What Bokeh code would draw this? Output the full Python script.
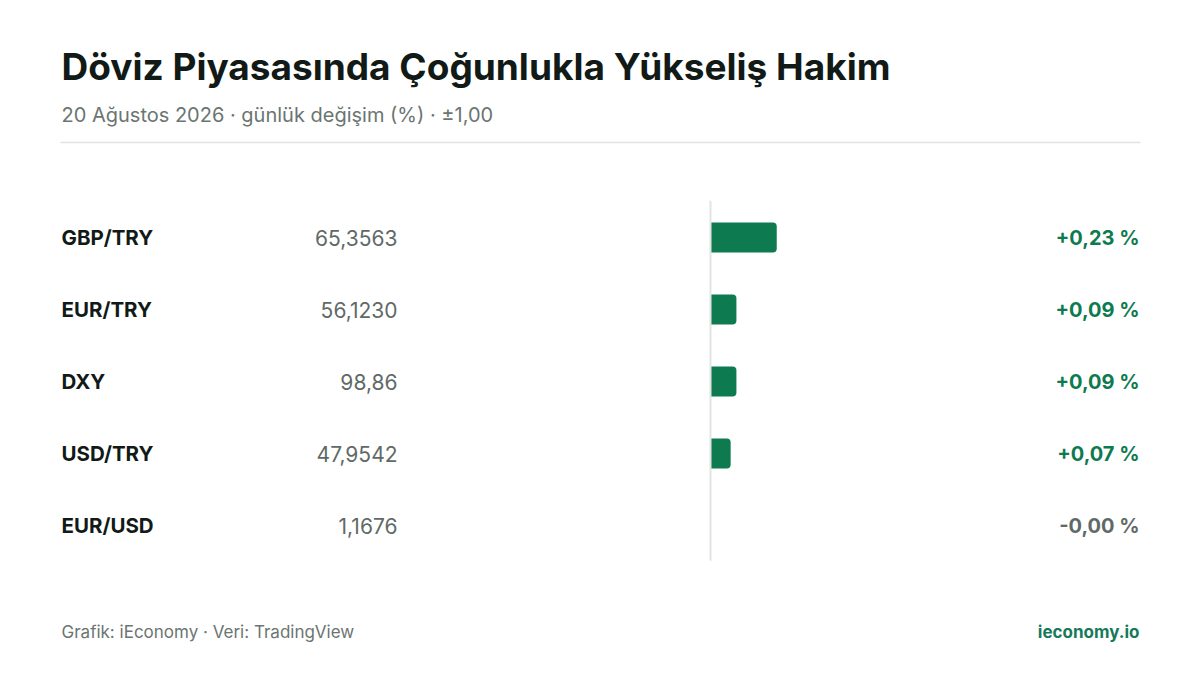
from bokeh.plotting import figure
from bokeh.models import Range1d, ColumnDataSource
from bokeh.core.properties import value
from bokeh.embed import file_html
from bokeh.resources import INLINE

# ---- data ----
pairs = ["GBP/TRY", "EUR/TRY", "DXY", "USD/TRY", "EUR/USD"]
prices = ["65,3563", "56,1230", "98,86", "47,9542", "1,1676"]
changes = [0.23, 0.09, 0.09, 0.07, -0.001]

title = "Döviz Piyasasında Çoğunlukla Yükseliş Hakim"
subtitle = "20 Ağustos 2026 · günlük değişim (%) · ±1,00"
footer_left = "Grafik: iEconomy · Veri: TradingView"
footer_right = "ieconomy.io"

GREEN = "#0e7a50"
GRAY_NUM = "#5f6a66"
DARK = "#111a17"
FONT = "Inter"

W, H = 1184, 659
p = figure(width=W, height=H, output_backend="svg", toolbar_location=None,
           x_range=Range1d(0, W), y_range=Range1d(H, 0),
           x_axis_type=None, y_axis_type=None, min_border=0,
           background_fill_color="white", border_fill_color="white")
p.outline_line_color = None
p.grid.visible = False

# bar value scale: 0 at x 710, 1.00 = 288 px
zero_px, unit_px = 710.0, 288.0
p.extra_x_ranges = {"bar": Range1d((0 - zero_px) / unit_px, (W - zero_px) / unit_px)}
# row scale: row i centred at y 237 + 72 i
row0, row_step = 237.0, 72.0
p.extra_y_ranges = {"rows": Range1d((H - row0) / row_step, (0 - row0) / row_step)}

rows = list(range(len(pairs)))
pct_labels = [(f"{v:+.2f}".replace(".", ",") + " %") for v in changes]
colors = [GREEN if v > 0.005 else GRAY_NUM for v in changes]
src = ColumnDataSource(dict(row=rows, pair=pairs, price=prices, chg=changes,
                            pct=pct_labels, color=colors,
                            zero=[0.0] * len(rows)))

# header
p.text(x=[61], y=[66], text=[title], text_font=value(FONT), text_font_size="37px",
       text_font_style="bold", text_color=DARK, text_baseline="middle", text_align="left")
p.text(x=[61], y=[114], text=[subtitle], text_font=value(FONT), text_font_size="20px",
       text_color="#6b7571", text_baseline="middle", text_align="left")
p.segment(x0=[60], x1=[1140], y0=[142], y1=[142], line_color="#dfe3e1", line_width=1.5)

# rows
p.text(x=61, y="row", text="pair", source=src, y_range_name="rows",
       text_font=value(FONT), text_font_size="20.5px", text_font_style="bold",
       text_color=DARK, text_baseline="middle", text_align="left")
p.text(x=397, y="row", text="price", source=src, y_range_name="rows",
       text_font=value(FONT), text_font_size="21px",
       text_color=GRAY_NUM, text_baseline="middle", text_align="right")
p.text(x=1139, y="row", text="pct", source=src, y_range_name="rows",
       text_font=value(FONT), text_font_size="20px", text_font_style="bold",
       text_color="color", text_baseline="middle", text_align="right")

# bars
p.hbar(y="row", left="zero", right="chg", height=30 / row_step, source=src,
       x_range_name="bar", y_range_name="rows", fill_color="color",
       line_color=None, border_radius=(0, 4, 4, 0))
# zero line
p.segment(x0=[0], x1=[0], y0=[-0.51], y1=[4.49], x_range_name="bar", y_range_name="rows",
          line_color="#e2e5e3", line_width=2)

# footer
p.text(x=[61], y=[631], text=[footer_left], text_font=value(FONT), text_font_size="17px",
       text_color="#6b7571", text_baseline="middle", text_align="left")
p.text(x=[1139], y=[631], text=[footer_right], text_font=value(FONT), text_font_size="17px",
       text_font_style="bold", text_color="#17795b", text_baseline="middle", text_align="right")

open("out.html", "w").write(file_html(p, INLINE))
